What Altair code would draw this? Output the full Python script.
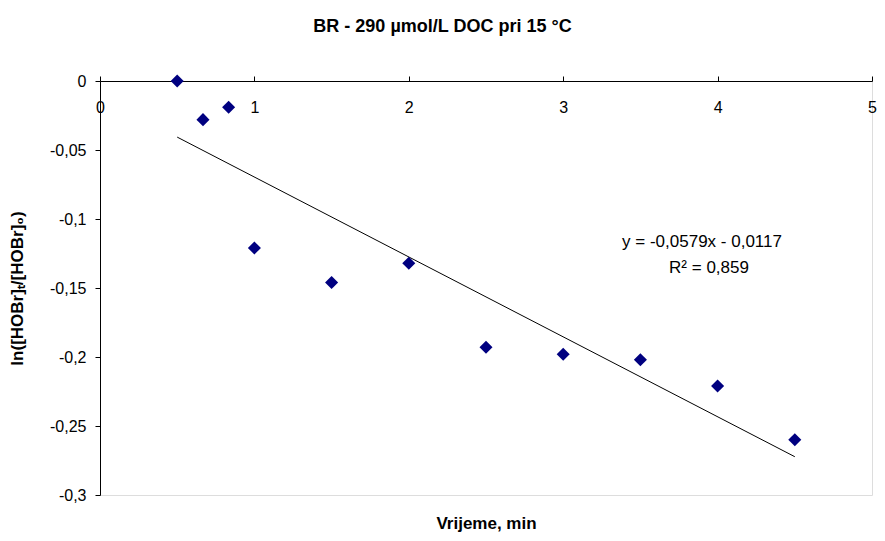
import altair as alt
import pandas as pd

# ---- data ----
time_min = [0.5, 0.667, 0.833, 1.0, 1.5, 2.0, 2.5, 3.0, 3.5, 4.0, 4.5]
ln_ratio = [0.0, -0.028, -0.019, -0.121, -0.146, -0.132, -0.193, -0.198, -0.202, -0.221, -0.260]
x_ticks = [0, 1, 2, 3, 4, 5]
y_ticks = [0, -0.05, -0.1, -0.15, -0.2, -0.25, -0.3]
trend_slope = -0.0579
trend_intercept = -0.0117
r_squared = 0.859

FONT = "Liberation Sans"

pts = pd.DataFrame({"t": time_min, "v": ln_ratio})
trend = pd.DataFrame({"t": [min(time_min), max(time_min)]})

eq_text = f"y = {trend_slope:.4f}x - {abs(trend_intercept):.4f}".replace(".", ",")
r2_text = f"R² = {r_squared:.3f}".replace(".", ",")

xscale = alt.Scale(domain=[0, 5], nice=False, zero=False)
yscale = alt.Scale(domain=[-0.3, 0], nice=False, zero=False)

top_axis = alt.Axis(
    orient="top", values=x_ticks, title=None, grid=False,
    domainColor="black", tickColor="black", tickSize=5,
    labelFont=FONT, labelFontSize=16, labelColor="black",
    labelBaseline="middle", labelPadding=-31, labelFlush=False,
    labelOverlap=False,
)
bottom_axis = alt.Axis(
    orient="bottom", labels=False, ticks=False, domain=False, grid=False,
    title="Vrijeme, min", titleFont=FONT, titleFontSize=17,
    titleFontWeight="bold", titleColor="black", titlePadding=20,
)
y_axis = alt.Axis(
    values=y_ticks, grid=False,
    labelExpr="replace(toString(datum.value), '.', ',')",
    domainColor="black", tickColor="black", tickSize=5,
    labelFont=FONT, labelFontSize=16, labelColor="black", labelPadding=9,
    title="ln([HOBr]ₜ/[HOBr]₀)", titleFont=FONT, titleFontSize=17,
    titleFontWeight="bold", titleColor="black", titlePadding=23,
)

points = alt.Chart(pts).mark_point(
    shape="diamond", filled=True, size=170, color="#000080", opacity=1
).encode(
    x=alt.X("t:Q", scale=xscale, axis=top_axis),
    y=alt.Y("v:Q", scale=yscale, axis=y_axis),
)

trend_line = alt.Chart(trend).transform_calculate(
    v=f"{trend_slope} * datum.t + {trend_intercept}"
).mark_line(color="black", strokeWidth=1).encode(
    x=alt.X("t:Q", scale=xscale, axis=bottom_axis),
    y=alt.Y("v:Q", scale=yscale, axis=y_axis),
)

eq = alt.Chart(pd.DataFrame({"label": [eq_text]})).mark_text(
    font=FONT, fontSize=17, color="black", align="center", baseline="middle"
).encode(x=alt.value(602), y=alt.value(161), text="label:N")

r2 = alt.Chart(pd.DataFrame({"label": [r2_text]})).mark_text(
    font=FONT, fontSize=17, color="black", align="center", baseline="middle"
).encode(x=alt.value(609), y=alt.value(187), text="label:N")

chart = alt.layer(trend_line, points, eq, r2).resolve_axis(x="independent").properties(
    width=772, height=414,
    autosize=alt.AutoSizeParams(type="none"),
    padding={"left": 92, "top": 73, "right": 5, "bottom": 38},
    title=alt.TitleParams(
        "BR - 290 µmol/L DOC pri 15 °C", font=FONT, fontSize=18,
        fontWeight="bold", color="black", anchor="middle", frame="bounds",
        offset=37,
    ),
).configure_view(stroke="#808080", strokeWidth=1).configure(background="white")

chart.save("out.html", embed_options={"renderer": "svg", "actions": False})
